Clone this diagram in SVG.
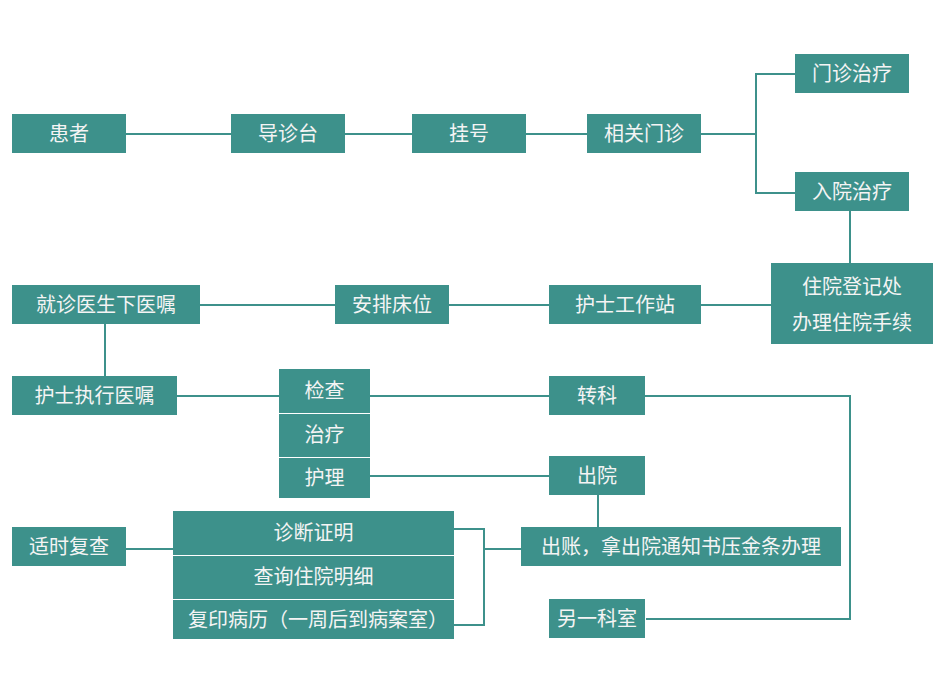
<svg xmlns="http://www.w3.org/2000/svg" width="943" height="687" viewBox="0 0 943 687">
<style>
.n{fill:#3d918b}
.t{fill:#f4f4f4;font-family:"Noto Sans CJK SC","Microsoft YaHei",sans-serif;font-size:20px;text-anchor:middle}
.c{fill:none;stroke:#3d918b;stroke-width:2}
.s{stroke:#ffffff;stroke-width:1.2}
</style>
<rect width="943" height="687" fill="#ffffff"/>
<g id="connectors">
<path class="c" d="M126 134H231M345 134H412M526 134H587M701 134H756"/>
<path class="c" d="M795 74H756V193H795"/>
<path class="c" d="M850 211V263"/>
<path class="c" d="M771 305H701M549 305H449M335 305H200"/>
<path class="c" d="M105 324V376"/>
<path class="c" d="M177 396H279"/>
<path class="c" d="M370 396H549"/>
<path class="c" d="M370 476H549"/>
<path class="c" d="M645 396H850V619H646"/>
<path class="c" d="M598 495V527"/>
<path class="c" d="M126 549H173"/>
<path class="c" d="M454 529H484V625H454M484 549H521"/>
</g>
<g id="huanzhe"><rect class="n" x="12" y="114" width="114" height="39"/><text class="t" x="69" y="141">患者</text></g>
<g id="daozhentai"><rect class="n" x="231" y="114" width="114" height="39"/><text class="t" x="288" y="141">导诊台</text></g>
<g id="guahao"><rect class="n" x="412" y="114" width="114" height="39"/><text class="t" x="469" y="141">挂号</text></g>
<g id="xiangguanmenzhen"><rect class="n" x="587" y="114" width="114" height="39"/><text class="t" x="644" y="141">相关门诊</text></g>
<g id="menzhenzhiliao"><rect class="n" x="795" y="54" width="114" height="39"/><text class="t" x="852" y="81">门诊治疗</text></g>
<g id="ruyuanzhiliao"><rect class="n" x="795" y="172" width="114" height="39"/><text class="t" x="852" y="199">入院治疗</text></g>
<g id="zhuyuandengji"><rect class="n" x="771" y="263" width="162" height="81"/><text class="t" x="852" y="294">住院登记处</text><text class="t" x="852" y="330">办理住院手续</text></g>
<g id="hushigongzuozhan"><rect class="n" x="549" y="285" width="152" height="39"/><text class="t" x="625" y="312">护士工作站</text></g>
<g id="anpaichuangwei"><rect class="n" x="335" y="285" width="114" height="39"/><text class="t" x="392" y="312">安排床位</text></g>
<g id="jiuzhenyisheng"><rect class="n" x="12" y="285" width="188" height="39"/><text class="t" x="106" y="312">就诊医生下医嘱</text></g>
<g id="hushizhixing"><rect class="n" x="12" y="376" width="165" height="39"/><text class="t" x="94.5" y="403">护士执行医嘱</text></g>
<g id="jianchazhiliaohuli"><rect class="n" x="279" y="369" width="91" height="129"/><line class="s" x1="279" y1="413.5" x2="370" y2="413.5"/><line class="s" x1="279" y1="457.5" x2="370" y2="457.5"/><text class="t" x="324.5" y="398">检查</text><text class="t" x="324.5" y="442">治疗</text><text class="t" x="324.5" y="485">护理</text></g>
<g id="zhuanke"><rect class="n" x="549" y="376" width="96" height="39"/><text class="t" x="597" y="403">转科</text></g>
<g id="chuyuan"><rect class="n" x="549" y="456" width="96" height="39"/><text class="t" x="597" y="483">出院</text></g>
<g id="chuzhang"><rect class="n" x="521" y="527" width="320" height="39"/><text class="t" x="681" y="554">出账，拿出院通知书压金条办理</text></g>
<g id="lingyikeshi"><rect class="n" x="549" y="599" width="96" height="39"/><text class="t" x="597" y="626">另一科室</text></g>
<g id="shishifucha"><rect class="n" x="12" y="527" width="114" height="39"/><text class="t" x="69" y="554">适时复查</text></g>
<g id="zhenduanzhengming"><rect class="n" x="173" y="511" width="281" height="128"/><line class="s" x1="173" y1="555.5" x2="454" y2="555.5"/><line class="s" x1="173" y1="599.5" x2="454" y2="599.5"/><text class="t" x="313.5" y="540">诊断证明</text><text class="t" x="313.5" y="584">查询住院明细</text><text class="t" x="318" y="627">复印病历（一周后到病案室）</text></g>
</svg>
